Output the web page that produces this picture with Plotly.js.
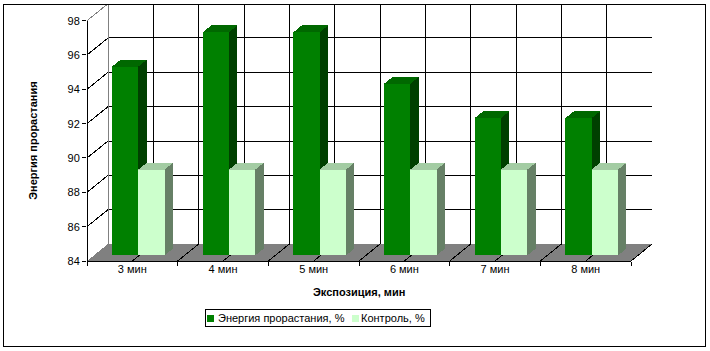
<!DOCTYPE html>
<html>
<head>
<meta charset="utf-8">
<script src="https://cdn.plot.ly/plotly-3.0.1.min.js"></script>
<style>html,body{margin:0;padding:0;background:#fff;}#chart{width:710px;height:351px;}#chart svg path{shape-rendering:crispEdges;}</style>
</head>
<body>
<div id="chart"></div>
<script>
// ---- data ----
const categories = ['3 мин', '4 мин', '5 мин', '6 мин', '7 мин', '8 мин'];
const energy = [95, 97, 97, 94, 92, 92];
const control = [89, 89, 89, 89, 89, 89];
const seriesNames = ['Энергия прорастания, %', 'Контроль, %'];
const yTicks = [84, 86, 88, 90, 92, 94, 96, 98];
const yTitle = 'Энергия прорастания';
const xTitle = 'Экспозиция, мин';

// ---- geometry (3D look) ----
const YMIN = 84, YMAX = 98, YTOP = 98.97;
const XMIN = -0.5, XMAXF = categories.length - 0.5, XTOP = 5.731;
const DXF = 0.2316;   // full depth shift in category units
const DYF = 0.99;     // full depth shift in value units
const f1 = 0.33, f2 = 0.73; // bar depth (front, back)
const BW = 0.29;
const offs = [-0.30, -0.01];
const colors = {
  front: ['#008000', '#CCFFCC'],
  top: ['#006800', '#A3CCA3'],
  side: ['#004000', '#668066']
};

const shapesBelow = [];
const shapesAbove = [];
const L = (x0, y0, x1, y1, color) => ({type: 'line', xref: 'x', yref: 'y', x0, y0, x1, y1, line: {color: color || '#000', width: 1}, layer: 'below'});

// floor
shapesBelow.push({type: 'path', xref: 'x', yref: 'y', layer: 'below',
  path: `M${XMIN},${YMIN} L${XMAXF},${YMIN} L${XMAXF + DXF},${YMIN + DYF} L${XMIN + DXF},${YMIN + DYF} Z`,
  fillcolor: '#808080', line: {width: 0}});
// floor diagonals (every half category)
for (let k = 1; k <= categories.length * 2; k++) {
  const x = XMIN + k * 0.5;
  shapesBelow.push(L(x, YMIN, x + DXF, YMIN + DYF));
}
// back wall horizontal gridlines
yTicks.forEach(v => {
  if (v === YMIN) return;
  shapesBelow.push(L(XMIN + DXF, v + DYF, XMAXF + DXF, v + DYF));
});
// back wall vertical gridlines
for (let k = 0; k <= categories.length * 2; k++) {
  const x = XMIN + DXF + k * 0.5;
  const c = (k === 0 || k === categories.length * 2) ? '#808080' : '#000';
  shapesBelow.push(L(x, YMIN + DYF, x, YMAX + DYF, c));
}
// left wall diagonals
yTicks.forEach(v => {
  if (v === YMIN) return;
  shapesBelow.push(L(XMIN, v, XMIN + DXF, v + DYF, v === YMAX ? '#808080' : '#000'));
});

// bar 3D faces
function faces(vals, s, target, layer) {
  const ddx = (f2 - f1) * DXF, ddy = (f2 - f1) * DYF;
  vals.forEach((v, i) => {
    const xl = i + offs[s] + f1 * DXF, xr = xl + BW;
    const yb = YMIN + f1 * DYF, yt = v + f1 * DYF;
    target.push({type: 'path', xref: 'x', yref: 'y', layer,
      path: `M${xl},${yt} L${xr},${yt} L${xr + ddx},${yt + ddy} L${xl + ddx},${yt + ddy} Z`,
      fillcolor: colors.top[s], line: {width: 0}});
    target.push({type: 'path', xref: 'x', yref: 'y', layer,
      path: `M${xr},${yb} L${xr + ddx},${yb + ddy} L${xr + ddx},${yt + ddy} L${xr},${yt} Z`,
      fillcolor: colors.side[s], line: {width: 0}});
  });
}
faces(energy, 0, shapesBelow, 'below');
faces(control, 1, shapesAbove, 'above');

// paper helpers (plot area: x 87..652, y 4..261)
const px = v => (v - 87) / 565;
const py = v => (261 - v) / 257;

// axis lines & border
const axisShapes = [
  {type: 'line', xref: 'paper', yref: 'y', x0: 0, x1: 0, y0: YMIN, y1: YMAX, line: {color: '#000', width: 1}},
  {type: 'line', xref: 'x', yref: 'paper', x0: XMIN, x1: XMAXF, y0: 0, y1: 0, line: {color: '#000', width: 1}},
  {type: 'rect', xref: 'paper', yref: 'paper', x0: px(3), x1: px(705), y0: py(346), y1: py(4), line: {color: '#000', width: 1}, fillcolor: 'rgba(0,0,0,0)'}
];

// custom compact legend
const legendBox = {x0: 205, x1: 430, y0: 309, y1: 326};
const legendSquares = [207, 352];
const legendTexts = [218, 361];
const legendShapes = [
  {type: 'rect', xref: 'paper', yref: 'paper', x0: px(legendBox.x0), x1: px(legendBox.x1), y0: py(legendBox.y1), y1: py(legendBox.y0), line: {color: '#000', width: 1}, fillcolor: '#fff'}
];
const legendAnn = [];
seriesNames.forEach((name, s) => {
  legendShapes.push({type: 'rect', xref: 'paper', yref: 'paper', x0: px(legendSquares[s]), x1: px(legendSquares[s] + 7), y0: py(321.5), y1: py(314.5), line: {width: 0}, fillcolor: colors.front[s]});
  legendAnn.push({text: name, xref: 'paper', yref: 'paper', x: px(legendTexts[s]), y: py(318), xanchor: 'left', yanchor: 'middle', showarrow: false, font: {family: 'Arial, "Liberation Sans", sans-serif', size: 11, color: '#000'}, xshift: -2});
});

const idx = categories.map((c, i) => i);
const traces = [energy, control].map((vals, s) => ({
  type: 'bar',
  name: seriesNames[s],
  x: idx,
  y: vals.map(v => v - YMIN),
  base: YMIN + f1 * DYF,
  width: BW,
  offset: offs[s] + f1 * DXF,
  marker: {color: colors.front[s], line: {width: 0}},
  hoverinfo: 'skip'
}));

const font = {family: 'Arial, "Liberation Sans", sans-serif', size: 11, color: '#000'};
const layout = {
  width: 710, height: 351,
  margin: {l: 87, r: 58, t: 4, b: 90},
  paper_bgcolor: '#fff', plot_bgcolor: 'rgba(0,0,0,0)',
  font: font,
  barmode: 'overlay',
  showlegend: false,
  xaxis: {range: [XMIN, XTOP], showgrid: false, zeroline: false, showline: false,
    tickmode: 'array', tickvals: idx, ticktext: categories, ticks: '', tickfont: font,
    minor: {tickmode: 'array', tickvals: [XMIN].concat(idx.map(i => i + 0.5)), ticks: 'outside', ticklen: 4, tickcolor: '#000', tickwidth: 1, showgrid: false},
    fixedrange: true},
  yaxis: {range: [YMIN, YTOP], showgrid: false, zeroline: false, showline: false,
    tickmode: 'array', tickvals: yTicks, ticktext: yTicks.map(String), ticks: 'outside', ticklen: 4, tickcolor: '#000', tickwidth: 1, tickfont: font,
    fixedrange: true},
  shapes: shapesBelow.concat(shapesAbove, axisShapes, legendShapes),
  annotations: [
    {text: '<b>' + xTitle + '</b>', xref: 'x', yref: 'paper', x: (XMIN + XMAXF) / 2, y: py(292), showarrow: false, xanchor: 'center', yanchor: 'middle', font: font},
    {text: '<b>' + yTitle + '</b>', xref: 'paper', yref: 'y', x: px(33), y: (YMIN + YMAX) / 2, showarrow: false, textangle: -90, xanchor: 'center', yanchor: 'middle', font: font}
  ].concat(legendAnn)
};

Plotly.newPlot('chart', traces, layout, {displayModeBar: false, staticPlot: true});
</script>
</body>
</html>
